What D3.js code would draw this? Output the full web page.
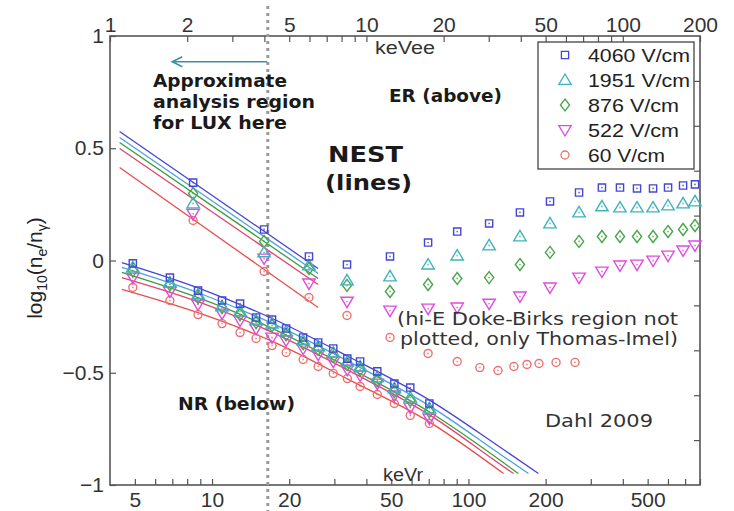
<!DOCTYPE html>
<html><head><meta charset="utf-8">
<script src="https://cdn.jsdelivr.net/npm/d3@7"></script>
<style>body{margin:0;background:#fff} svg{display:block}</style>
</head><body><svg id="c" width="734" height="511"></svg>
<script>
// ---------- DATA ----------
const fields = ["4060 V/cm","1951 V/cm","876 V/cm","522 V/cm","60 V/cm"];
const fieldTextWidth = [102,102,91,91,77];

// ER data (Dahl 2009), energies in keVee (top axis)
const erEnergy = [2.11,3.99,5.97,8.40,12.36,17.4,22.6,30.1,39.7,52.0,67.5,82.9,97.5,113.6,131.2,150.1,171.8,191.2];
const er4060 = [0.347,0.138,0.018,-0.018,0.018,0.080,0.129,0.165,0.214,0.263,0.303,0.325,0.325,0.321,0.321,0.325,0.334,0.339];
const er1951 = [0.254,0.036,-0.022,-0.089,-0.071,-0.018,0.022,0.067,0.107,0.165,0.214,0.241,0.236,0.236,0.236,0.245,0.254,0.263];
const er876  = [0.298,0.085,-0.036,-0.111,-0.138,-0.107,-0.080,-0.076,-0.018,0.036,0.085,0.107,0.107,0.107,0.107,0.129,0.138,0.156];
const er522  = [0.209,0.009,-0.102,-0.183,-0.223,-0.214,-0.209,-0.192,-0.160,-0.120,-0.076,-0.049,-0.022,-0.018,0.000,0.022,0.045,0.067];
const erEnergy60 = [2.11,3.99,5.97,8.40,12.36,17.4,22.6,27.7,32.6,37.6,42.3,47.1,54.9,65.1];
const er60   = [0.178,-0.049,-0.165,-0.245,-0.343,-0.414,-0.450,-0.477,-0.490,-0.472,-0.463,-0.459,-0.454,-0.454];

// NR data, energies in keVr (bottom axis)
const nrEnergy = [4.91,6.85,8.82,10.94,12.86,14.85,17.14,19.45,22.66,25.94,29.7,33.7,37.8,44.1,51.4,59.3,70.4];
const nr4060 = [-0.013,-0.076,-0.134,-0.178,-0.192,-0.254,-0.263,-0.303,-0.343,-0.365,-0.392,-0.437,-0.450,-0.494,-0.548,-0.566,-0.637];
const nr1951 = [-0.031,-0.098,-0.151,-0.205,-0.227,-0.267,-0.281,-0.316,-0.356,-0.383,-0.410,-0.450,-0.472,-0.521,-0.570,-0.610,-0.659];
const nr876  = [-0.045,-0.107,-0.165,-0.209,-0.241,-0.276,-0.290,-0.330,-0.370,-0.396,-0.428,-0.463,-0.486,-0.535,-0.584,-0.624,-0.673];
const nr522  = [-0.076,-0.138,-0.196,-0.236,-0.267,-0.303,-0.343,-0.356,-0.392,-0.419,-0.450,-0.486,-0.512,-0.548,-0.601,-0.655,-0.704];
const nr60   = [-0.120,-0.178,-0.241,-0.281,-0.321,-0.347,-0.379,-0.410,-0.441,-0.472,-0.503,-0.526,-0.561,-0.597,-0.637,-0.690,-0.726];

// NEST model lines
const nestErEnergy = [1.09, 6.48]; // keVee
const nestEr4060 = [0.575,-0.036];
const nestEr1951 = [0.548,-0.058];
const nestEr876  = [0.526,-0.080];
const nestEr522  = [0.499,-0.107];
const nestEr60   = [0.414,-0.209];

const nestNrEnergy4060 = [4.45,8.98,16.85,34.6,71.0,133.4,187.5]; // keVr
const nestNrEnergy1951 = [4.45,8.98,16.85,34.6,71.0,133.4,171.4];
const nestNrEnergy876  = [4.45,8.98,16.85,34.6,71.0,133.4,156.6];
const nestNrEnergy522  = [4.45,8.98,16.85,34.6,71.0,133.4,149.9];
const nestNrEnergy60   = [4.45,8.98,16.85,34.6,71.0,137.1];
const nestNr4060 = [-0.009,-0.125,-0.254,-0.432,-0.624,-0.833,-0.949];
const nestNr1951 = [-0.031,-0.147,-0.276,-0.454,-0.650,-0.864,-0.949];
const nestNr876  = [-0.053,-0.169,-0.298,-0.481,-0.677,-0.891,-0.949];
const nestNr522  = [-0.076,-0.187,-0.316,-0.494,-0.690,-0.909,-0.949];
const nestNr60   = [-0.129,-0.236,-0.356,-0.534,-0.722,-0.949];

const bottomMajor = [5,10,20,50,100,200,500];
const bottomMinor = [6,7,8,9,30,40,60,70,80,90,300,400,600,700,800];
const topMajor = [1,2,5,10,20,50,100,200];
const topMinor = [3,4,6,7,8,9,30,40,60,70,80,90];
const leftTicks = [1,0.5,0,-0.5,-1];
const rightTicks = [0.8,0.6,0.4,0.2,0,-0.2,-0.4,-0.6,-0.8];
const luxCut = 16.5; // keVr

// ---------- DRAW ----------
const svg = d3.select("#c");
const xB = d3.scaleLog().domain([4,800]).range([110,700]);
const xT = d3.scaleLog().domain([1,200]).range([110,700]);
const y = d3.scaleLinear().domain([-1,1]).range([485,36]);

const markerColors = ["#4646d2","#3fb3bd","#4aa64a","#e04ae0","#ef7070"];
const lineColors = ["#4444d6","#4aa0e2","#3c9c3c","#e0446c","#ea4c4c"];

function poly(pts){return {draw(ctx){ctx.moveTo(pts[0][0],pts[0][1]);for(let i=1;i<pts.length;i++)ctx.lineTo(pts[i][0],pts[i][1]);ctx.closePath();}};}
const symSquare = poly([[-3.6,-3.6],[3.6,-3.6],[3.6,3.6],[-3.6,3.6]]);
const symTri = poly([[0,-6],[6.2,4.4],[-6.2,4.4]]);
const symDia = poly([[0,-6],[4.6,0],[0,6],[-4.6,0]]);
const symTriDown = poly([[0,6],[6.2,-4.4],[-6.2,-4.4]]);
const symCircle = {draw(ctx){ctx.moveTo(4,0);ctx.arc(0,0,4,0,2*Math.PI);}};
const symbols = [symSquare,symTri,symDia,symTriDown,symCircle];

// axes ticks
const tickCol = "#555";
function styleAxis(g){g.select(".domain").remove();g.selectAll("line").attr("stroke",tickCol).attr("stroke-width",1.2);
  g.selectAll("text").attr("font-family","Liberation Sans, Arial, sans-serif").attr("font-size",21).attr("fill","#333");}

svg.append("g").attr("transform","translate(0,485)")
  .call(d3.axisBottom(xB).tickValues(bottomMajor.concat(bottomMinor)).tickSize(-6).tickPadding(7)
    .tickFormat(d=>bottomMajor.includes(d)?String(d):""))
  .call(styleAxis);
svg.append("g").attr("transform","translate(0,36)")
  .call(d3.axisTop(xT).tickValues(topMajor.concat(topMinor)).tickSize(-6).tickPadding(4)
    .tickFormat(d=>topMajor.includes(d)?String(d):""))
  .call(styleAxis);
svg.append("g").attr("transform","translate(110,0)")
  .call(d3.axisLeft(y).tickValues(leftTicks).tickSize(-6).tickPadding(6)
    .tickFormat(d=>d===0?"0":(d<0?"\u2212":"")+Math.abs(d)))
  .call(styleAxis);
svg.append("g").attr("transform","translate(700,0)")
  .call(d3.axisRight(y).tickValues(rightTicks).tickSize(-6).tickFormat(""))
  .call(styleAxis);

// frame
svg.append("rect").attr("x",110).attr("y",36).attr("width",590).attr("height",449)
  .attr("fill","none").attr("stroke","#555").attr("stroke-width",1.6);

// dotted LUX line
svg.append("line").attr("x1",xB(luxCut)).attr("x2",xB(luxCut)).attr("y1",6).attr("y2",511)
  .attr("stroke","#9a9a9a").attr("stroke-width",3).attr("stroke-dasharray","3,4");

// NEST lines
const lineGen = d3.line().x(d=>d.px).y(d=>y(d.v)).curve(d3.curveMonotoneX);
const nestEr = [nestEr4060,nestEr1951,nestEr876,nestEr522,nestEr60];
nestEr.forEach((arr,i)=>{
  svg.append("path").datum(arr.map((v,j)=>({px:xT(nestErEnergy[j]),v})))
    .attr("d",lineGen).attr("fill","none").attr("stroke",lineColors[i]).attr("stroke-width",1.3);
});
const nestNr = [[nestNrEnergy4060,nestNr4060],[nestNrEnergy1951,nestNr1951],[nestNrEnergy876,nestNr876],[nestNrEnergy522,nestNr522],[nestNrEnergy60,nestNr60]];
nestNr.forEach(([e,arr],i)=>{
  svg.append("path").datum(arr.map((v,j)=>({px:xB(e[j]),v})))
    .attr("d",lineGen).attr("fill","none").attr("stroke",lineColors[i]).attr("stroke-width",1.3);
});

// markers
function drawPoints(pts,i){
  const g = svg.append("g");
  g.selectAll("path.m").data(pts).join("path").attr("class","m")
    .attr("transform",d=>`translate(${d.px},${y(d.v)})`)
    .attr("d",d3.symbol(symbols[i]))
    .attr("fill","none").attr("stroke",markerColors[i]).attr("stroke-width",1.4);
  g.selectAll("circle").data(pts).join("circle")
    .attr("cx",d=>d.px).attr("cy",d=>y(d.v)).attr("r",0.9).attr("fill",markerColors[i]).attr("opacity",0.8);
}
const erSeries = [[erEnergy,er4060],[erEnergy,er1951],[erEnergy,er876],[erEnergy,er522],[erEnergy60,er60]];
const nrSeries = [nr4060,nr1951,nr876,nr522,nr60];
[4,3,2,1,0].forEach(i=>{
  drawPoints(nrSeries[i].map((v,j)=>({px:xB(nrEnergy[j]),v})),i);
  drawPoints(erSeries[i][1].map((v,j)=>({px:xT(erSeries[i][0][j]),v})),i);
});

// legend
const lg = svg.append("g");
lg.append("rect").attr("x",538).attr("y",42).attr("width",156).attr("height",127)
  .attr("fill","#fff").attr("stroke","#444").attr("stroke-width",1.3);
fields.forEach((f,i)=>{
  const cy = 55 + i*25;
  lg.append("path").attr("transform",`translate(565,${cy})`).attr("d",d3.symbol(symbols[i]))
    .attr("fill","none").attr("stroke",markerColors[i]).attr("stroke-width",1.3);
  lg.append("text").attr("x",588).attr("y",cy+7).text(f)
    .attr("font-family","Liberation Sans, Arial, sans-serif").attr("font-size",19).attr("fill","#222")
    .attr("textLength",fieldTextWidth[i]).attr("lengthAdjust","spacingAndGlyphs");
});

// annotations
function txt(x,yy,s,opt){
  const t = svg.append("text").attr("x",x).attr("y",yy).text(s)
    .attr("font-family",opt.family||"DejaVu Sans, sans-serif").attr("font-size",opt.size)
    .attr("font-weight",opt.weight||"normal").attr("fill",opt.fill||"#1a1a1a");
  if(opt.len) t.attr("textLength",opt.len).attr("lengthAdjust","spacingAndGlyphs");
  return t;
}
txt(375,54,"keVee",{family:"Liberation Sans, Arial, sans-serif",size:18,len:60,fill:"#333"});
txt(383,481,"keVr",{family:"Liberation Sans, Arial, sans-serif",size:18,len:40,fill:"#333"});
txt(153,87,"Approximate",{size:18,weight:"bold",len:134});
txt(153,108,"analysis region",{size:18,weight:"bold",len:162});
txt(153,129,"for LUX here",{size:18,weight:"bold",len:134});
txt(389,102,"ER (above)",{size:18,weight:"bold",len:113});
txt(328,162,"NEST",{size:22,weight:"bold",len:75});
txt(325,190,"(lines)",{size:22,weight:"bold",len:87});
txt(178,410,"NR (below)",{size:18,weight:"bold",len:117});
txt(397,325,"(hi-E Doke-Birks region not",{size:17,len:281,fill:"#333"});
txt(400,345,"plotted, only Thomas-Imel)",{size:17,len:278,fill:"#333"});
txt(545,427,"Dahl 2009",{size:18,len:108,fill:"#333"});

// arrow
const ay = y(0.885);
const ax1 = xT(4.1), ax2 = xT(1.75);
svg.append("line").attr("x1",ax1).attr("x2",ax2).attr("y1",ay).attr("y2",ay)
  .attr("stroke","#3d8fa3").attr("stroke-width",1.6);
svg.append("path").attr("d",`M${ax2+10},${ay-5}L${ax2},${ay}L${ax2+10},${ay+5}`)
  .attr("fill","none").attr("stroke","#3d8fa3").attr("stroke-width",1.6);

// y label
const yl = svg.append("text").attr("transform","translate(42,268) rotate(-90)")
  .attr("text-anchor","middle").attr("font-family","Liberation Sans, Arial, sans-serif")
  .attr("font-size",21).attr("fill","#222");
yl.append("tspan").text("log");
yl.append("tspan").text("10").attr("font-size",14).attr("dy",5);
yl.append("tspan").text("(n").attr("dy",-5);
yl.append("tspan").text("e").attr("font-size",14).attr("dy",5);
yl.append("tspan").text("/n").attr("dy",-5);
yl.append("tspan").text("\u03B3").attr("font-size",14).attr("dy",5);
yl.append("tspan").text(")").attr("dy",-5);
</script></body></html>
